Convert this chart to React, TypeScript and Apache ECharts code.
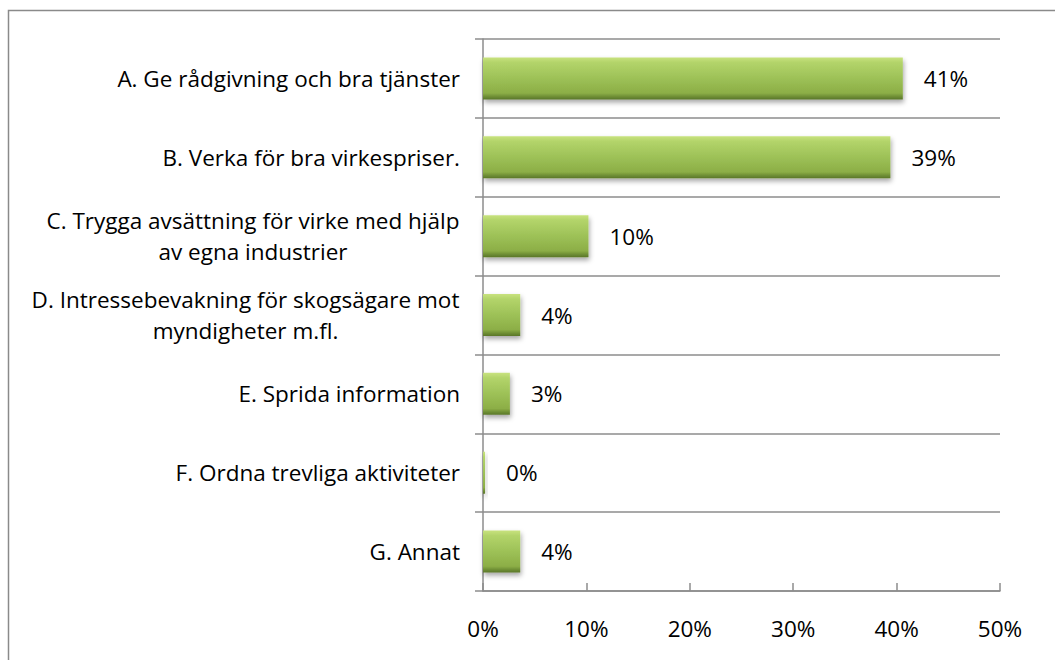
import React, { useEffect, useRef } from "react";
import * as echarts from "echarts";

const categories: string[] = [
  "A. Ge rådgivning och bra tjänster",
  "B. Verka för bra virkespriser.",
  "C. Trygga avsättning för virke med hjälp\nav egna industrier",
  "D. Intressebevakning för skogsägare mot\nmyndigheter m.fl.",
  "E. Sprida information",
  "F. Ordna trevliga aktiviteter",
  "G. Annat",
];
const values: number[] = [40.6, 39.4, 10.2, 3.6, 2.6, 0.2, 3.6];
const xTicks: number[] = [0, 10, 20, 30, 40, 50];

const FONT = "'Open Sans'";
const FS = 22.5;
const LH = 31;

export default function App() {
  const ref = useRef<HTMLDivElement>(null);
  useEffect(() => {
    if (!ref.current) return;
    const chart = echarts.init(ref.current, null, { renderer: "svg" });

    const canvas = document.createElement("canvas");
    const ctx = canvas.getContext("2d")!;
    ctx.font = `${FS}px ${FONT}`;
    const rich: Record<string, any> = {};
    categories.forEach((c, i) => {
      const lines = c.split("\n");
      if (lines.length > 1) {
        const w = Math.max(...lines.map((l) => ctx.measureText(l).width));
        rich["w" + i] = {
          width: Math.ceil(w) + 1,
          align: "center",
          fontFamily: FONT,
          fontSize: FS,
          color: "#000",
          lineHeight: LH,
        };
      }
    });

    chart.setOption({
      animation: false,
      graphic: [
        {
          type: "rect",
          shape: { x: 8.5, y: 10.5, width: 1200, height: 800 },
          style: { fill: "none", stroke: "#8a8a8a", lineWidth: 1.5 },
          silent: true,
        },
      ],
      grid: { left: 483, right: 55, top: 39, bottom: 69 },
      xAxis: {
        type: "value",
        min: xTicks[0],
        max: xTicks[xTicks.length - 1],
        interval: 10,
        axisLine: { show: true, lineStyle: { color: "#8c8c8c", width: 1.5 } },
        axisTick: { show: true, inside: true, length: 8, lineStyle: { color: "#8c8c8c", width: 1.5 } },
        splitLine: { show: false },
        axisLabel: {
          formatter: (v: number) => `${v}%`,
          fontFamily: FONT,
          fontSize: FS,
          color: "#000",
          margin: 26,
        },
      },
      yAxis: {
        type: "category",
        data: categories,
        inverse: true,
        axisLine: { show: true, lineStyle: { color: "#8c8c8c", width: 1.5 } },
        axisTick: { show: true, length: 8, alignWithLabel: false, lineStyle: { color: "#8c8c8c", width: 1.5 } },
        splitLine: { show: true, lineStyle: { color: "#8c8c8c", width: 1.5 } },
        axisLabel: {
          fontFamily: FONT,
          fontSize: FS,
          color: "#000",
          margin: 23,
          lineHeight: LH,
          align: "right",
          rich,
          formatter: (v: string, i: number) => {
            const lines = v.split("\n");
            if (lines.length > 1) return lines.map((l) => `{w${i}|${l}}`).join("\n");
            return v;
          },
        },
      },
      series: [
        {
          type: "bar",
          data: values,
          barWidth: 42,
          itemStyle: {
            color: new echarts.graphic.LinearGradient(0, 0, 0, 1, [
              { offset: 0, color: "#c8e27e" },
              { offset: 0.12, color: "#b3d46a" },
              { offset: 0.5, color: "#9dc157" },
              { offset: 0.85, color: "#8cae46" },
              { offset: 0.93, color: "#6f8f35" },
              { offset: 1, color: "#5a7629" },
            ]),
            shadowColor: "rgba(0,0,0,0.35)",
            shadowBlur: 5,
            shadowOffsetY: 3,
            shadowOffsetX: 1,
          },
          label: {
            show: true,
            position: "right",
            distance: 21,
            fontFamily: FONT,
            fontSize: FS,
            color: "#000",
            formatter: (p: any) => `${Math.round(p.value)}%`,
          },
        },
      ],
    });
    return () => chart.dispose();
  }, []);
  return (
    <div
      ref={ref}
      style={{ position: "fixed", left: 0, top: 0, width: 1055, height: 660, background: "#fff" }}
    />
  );
}
